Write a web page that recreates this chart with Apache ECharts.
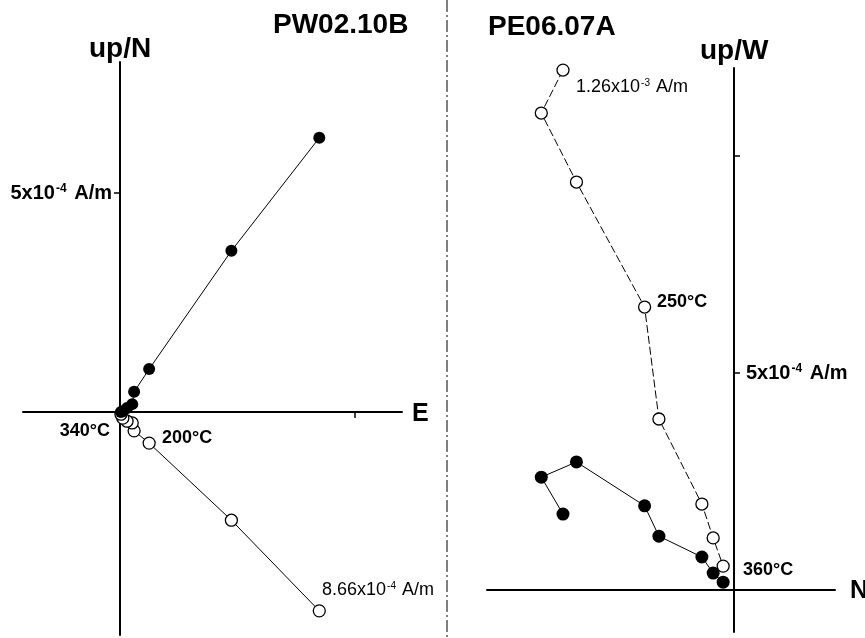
<!DOCTYPE html>
<html>
<head>
<meta charset="utf-8">
<script src="https://cdn.jsdelivr.net/npm/echarts@6/dist/echarts.min.js"></script>
<style>
html,body{margin:0;padding:0;background:#fff;}
#c{width:865px;height:638px;}
</style>
</head>
<body>
<div id="c"></div>
<script>
// Values in units of 1e-4 A/m, NRM first, then increasing temperature steps
// Left panel: PW02.10B (x = East; filled = North, open = Up)
var leftE  = [4.24, 2.37, 0.62, 0.30, 0.26, 0.15, 0.06, 0.02];
var leftN  = [6.26, 3.68, 0.98, 0.46, 0.18, 0.09, 0.02, 0.00];
var leftUp = [-4.54, -2.47, -0.71, -0.43, -0.25, -0.21, -0.14, -0.05];
// Right panel: PE06.07A (x = North; filled = West, open = Up)
var rightN  = [-3.94, -4.44, -3.63, -2.06, -1.73, -0.74, -0.48, -0.25];
var rightUp = [11.98, 10.99, 9.40, 6.52, 3.94, 1.98, 1.20, 0.55];
var rightW  = [1.75, 2.60, 2.95, 1.94, 1.24, 0.76, 0.39, 0.18];
// Axis ticks (1e-4 A/m)
var leftXTicks = [5];
var leftYTicks = [5];
var rightYTicks = [5, 10];
var rightYLabelTicks = [5];
var tickLabelMantissa = '5x10';
var tickLabelExp = '-4';

var FONT = '"Liberation Sans", Arial, sans-serif';

function pairs(xs, ys){ return xs.map(function(x,i){ return [x, ys[i]]; }); }

var chart = echarts.init(document.getElementById('c'), null, {renderer:'canvas'});

var tickRich = {
  n:{fontSize:20, fontWeight:'bold', fontFamily:FONT, color:'#000'},
  s:{fontSize:12, fontWeight:'bold', fontFamily:FONT, color:'#000', verticalAlign:'top', padding:[0,2,0,1]}
};
function tickFmt(){ return '{n|' + tickLabelMantissa + '}{s|' + tickLabelExp + '}{n| A/m}'; }

var axisLine = {show:true, onZero:false, lineStyle:{color:'#000', width:2}};

var filledStyle = {color:'#000'};
var openStyle = {color:'#fff', borderColor:'#000', borderWidth:1.3};

// Grid boxes (layout) and the axis offsets that put each axis line through the origin
var option = {
  backgroundColor:'#fff',
  animation:false,
  grid:[
    {left:23, top:62, width:379, height:573, containLabel:false, outerBoundsMode:'none'},
    {left:487, top:68, width:348, height:564, containLabel:false, outerBoundsMode:'none'}
  ],
  xAxis:[
    {type:'value', gridIndex:0, min:-2.064, max:6.0, position:'bottom', offset:-223, axisLine:axisLine,
     splitLine:{show:false}, axisLabel:{show:false},
     axisTick:{show:true, customValues:leftXTicks, length:6, lineStyle:{color:'#000', width:1.5}}},
    {type:'value', gridIndex:1, min:-5.691, max:2.327, position:'bottom', offset:-42, axisLine:axisLine,
     splitLine:{show:false}, axisLabel:{show:false}, axisTick:{show:false}}
  ],
  yAxis:[
    {type:'value', gridIndex:0, min:-5.091, max:7.991, position:'left', offset:-97, axisLine:axisLine,
     splitLine:{show:false},
     axisTick:{show:true, customValues:leftYTicks, length:6, lineStyle:{color:'#000', width:1.5}},
     axisLabel:{show:true, customValues:leftYTicks, margin:8, formatter:tickFmt, rich:tickRich}},
    {type:'value', gridIndex:1, min:-0.968, max:12.028, position:'right', offset:-101, axisLine:axisLine,
     splitLine:{show:false},
     axisTick:{show:true, customValues:rightYTicks, length:6, lineStyle:{color:'#000', width:1.5}},
     axisLabel:{show:true, customValues:rightYLabelTicks, margin:12, formatter:tickFmt, rich:tickRich}}
  ],
  series:[
    {type:'line', name:'PW02.10B horizontal', xAxisIndex:0, yAxisIndex:0,
     data:pairs(leftE, leftN), symbol:'circle', symbolSize:12,
     lineStyle:{color:'#000', width:1}, itemStyle:filledStyle, z:3},
    {type:'line', name:'PW02.10B vertical', xAxisIndex:0, yAxisIndex:0,
     data:pairs(leftE, leftUp), symbol:'circle', symbolSize:12,
     lineStyle:{color:'#000', width:1}, itemStyle:openStyle, z:2},
    {type:'line', name:'PE06.07A vertical', xAxisIndex:1, yAxisIndex:1,
     data:pairs(rightN, rightUp), symbol:'circle', symbolSize:12,
     lineStyle:{color:'#000', width:1, type:[8,3]}, itemStyle:openStyle, z:2},
    {type:'line', name:'PE06.07A horizontal', xAxisIndex:1, yAxisIndex:1,
     data:pairs(rightN, rightW), symbol:'circle', symbolSize:13,
     lineStyle:{color:'#000', width:1}, itemStyle:filledStyle, z:3}
  ],
  graphic:[
    {type:'line', shape:{x1:447, y1:0, x2:447, y2:638},
     style:{stroke:'#555', lineWidth:1.5, lineDash:[12,3,2,3]}},
    {type:'text', x:273, y:25, style:{text:'PW02.10B', fontSize:28, fontWeight:'bold', fontFamily:FONT, fill:'#000', verticalAlign:'middle'}},
    {type:'text', x:488, y:27, style:{text:'PE06.07A', fontSize:28, fontWeight:'bold', fontFamily:FONT, fill:'#000', verticalAlign:'middle'}},
    {type:'text', x:89, y:49, style:{text:'up/N', fontSize:28, fontWeight:'bold', fontFamily:FONT, fill:'#000', verticalAlign:'middle'}},
    {type:'text', x:700, y:51, style:{text:'up/W', fontSize:28, fontWeight:'bold', fontFamily:FONT, fill:'#000', verticalAlign:'middle'}},
    {type:'text', x:412, y:414, style:{text:'E', fontSize:25, fontWeight:'bold', fontFamily:FONT, fill:'#000', verticalAlign:'middle'}},
    {type:'text', x:850, y:591, style:{text:'N', fontSize:25, fontWeight:'bold', fontFamily:FONT, fill:'#000', verticalAlign:'middle'}},
    {type:'text', x:110, y:431, style:{text:'340°C', fontSize:18, fontWeight:'bold', fontFamily:FONT, fill:'#000', align:'right', verticalAlign:'middle'}},
    {type:'text', x:162, y:438, style:{text:'200°C', fontSize:18, fontWeight:'bold', fontFamily:FONT, fill:'#000', verticalAlign:'middle'}},
    {type:'text', x:657, y:302, style:{text:'250°C', fontSize:18, fontWeight:'bold', fontFamily:FONT, fill:'#000', verticalAlign:'middle'}},
    {type:'text', x:743, y:570, style:{text:'360°C', fontSize:18, fontWeight:'bold', fontFamily:FONT, fill:'#000', verticalAlign:'middle'}},
    {type:'text', x:322, y:590, style:{text:'{n|8.66x10}{s|-4}{n| A/m}', verticalAlign:'middle',
      rich:{n:{fontSize:18, fontFamily:FONT, color:'#000'}, s:{fontSize:10, fontFamily:FONT, color:'#000', verticalAlign:'top', padding:[0,1,0,1]}}}},
    {type:'text', x:576, y:87, style:{text:'{n|1.26x10}{s|-3}{n| A/m}', verticalAlign:'middle',
      rich:{n:{fontSize:18, fontFamily:FONT, color:'#000'}, s:{fontSize:10, fontFamily:FONT, color:'#000', verticalAlign:'top', padding:[0,1,0,1]}}}}
  ]
};
chart.setOption(option);
</script>
</body>
</html>
